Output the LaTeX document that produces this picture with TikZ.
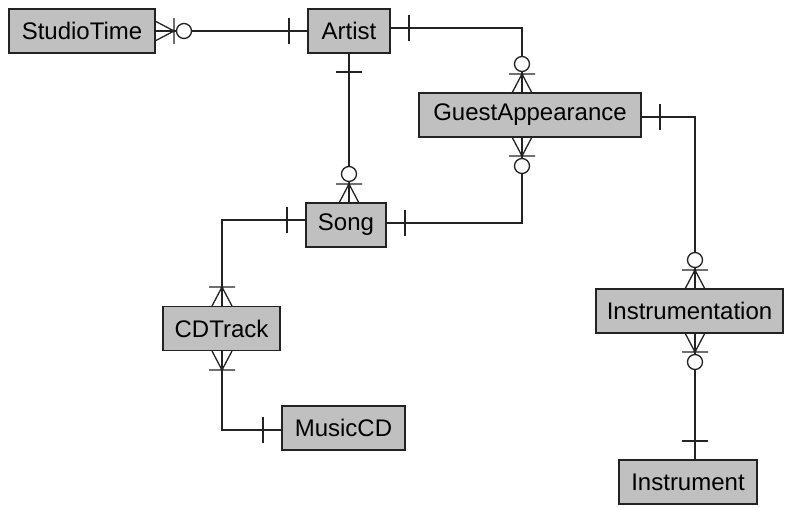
\documentclass[tikz,border=0pt]{standalone}
\usepackage{fontspec}
\setmainfont{Liberation Sans}
\definecolor{boxgray}{RGB}{192,192,192}
\definecolor{linegray}{RGB}{35,35,35}
\begin{document}
\begin{tikzpicture}[x=1pt,y=-1pt,
  entity/.style={draw=linegray,line width=1.6pt,fill=boxgray,rectangle,
    minimum height=44pt,inner sep=0pt,font=\fontsize{24}{28}\selectfont},
  rel/.style={draw=linegray,line width=1.3pt},
  symb/.style={draw=linegray,line width=1.3pt},
  one/.pic={\draw[symb] (19,-13) -- (19,13);},
  onemany/.pic={\draw[symb] (0,-10) -- (19,0) -- (0,10) (19,-13) -- (19,13);},
  zeromany/.pic={\draw[symb] (0,-10) -- (19,0) -- (0,10) (19,-13) -- (19,13);
    \draw[symb,fill=white] (29,0) circle[radius=7.5pt];},
]
\useasboundingbox (0,0) rectangle (788,507);

% entities
\node[entity,minimum width=146pt] (studio) at (82,31) {StudioTime};
\node[entity,minimum width=82pt] (artist) at (349,31) {Artist};
\node[entity,minimum width=222pt] (guest) at (530,115) {GuestAppearance};
\node[entity,minimum width=80pt] (song) at (346,225) {Song};
\node[entity,minimum width=117pt] (cdtrack) at (221.5,328.5) {CDTrack};
\node[entity,minimum width=123pt] (musiccd) at (343.5,428) {MusicCD};
\node[entity,minimum width=187pt] (instrumentation) at (689.5,311) {Instrumentation};
\node[entity,minimum width=138pt] (instrument) at (688,482) {Instrument};

% attachment points on the entity borders
\coordinate (gaTop) at (522,93);
\coordinate (gaBot) at (522,137);
\coordinate (gaRight) at (641,117);
\coordinate (insTop) at (695,289);
\coordinate (insBot) at (695,333);
\coordinate (instrTop) at (695,460);
\coordinate (artRight) at (390,28);
\coordinate (songRight) at (386,223);
\coordinate (songLeft) at (306,220);
\coordinate (cdTop) at (222,306);
\coordinate (cdBot) at (222,351);
\coordinate (mcdLeft) at (282,430);
\coordinate (stRight) at (155,31);
\coordinate (artLeft) at (308,31);
\coordinate (artBot) at (349,53);
\coordinate (songTop) at (349,203);

% StudioTime -- Artist
\draw[rel] (stRight) -- (artLeft);
\pic at (stRight) {zeromany};
\pic[rotate=180] at (artLeft) {one};

% Artist -- GuestAppearance
\draw[rel] (artRight) -| (gaTop);
\pic at (artRight) {one};
\pic[rotate=90] at (gaTop) {zeromany};

% Artist -- Song
\draw[rel] (artBot) -- (songTop);
\pic[rotate=-90] at (artBot) {one};
\pic[rotate=90] at (songTop) {zeromany};

% Song -- GuestAppearance
\draw[rel] (songRight) -| (gaBot);
\pic at (songRight) {one};
\pic[rotate=-90] at (gaBot) {zeromany};

% GuestAppearance -- Instrumentation
\draw[rel] (gaRight) -| (insTop);
\pic at (gaRight) {one};
\pic[rotate=90] at (insTop) {zeromany};

% Instrumentation -- Instrument
\draw[rel] (insBot) -- (instrTop);
\pic[rotate=-90] at (insBot) {zeromany};
\pic[rotate=90] at (instrTop) {one};

% Song -- CDTrack
\draw[rel] (songLeft) -| (cdTop);
\pic[rotate=180] at (songLeft) {one};
\pic[rotate=90] at (cdTop) {onemany};

% CDTrack -- MusicCD
\draw[rel] (cdBot) |- (mcdLeft);
\pic[rotate=-90] at (cdBot) {onemany};
\pic[rotate=180] at (mcdLeft) {one};
\end{tikzpicture}
\end{document}
